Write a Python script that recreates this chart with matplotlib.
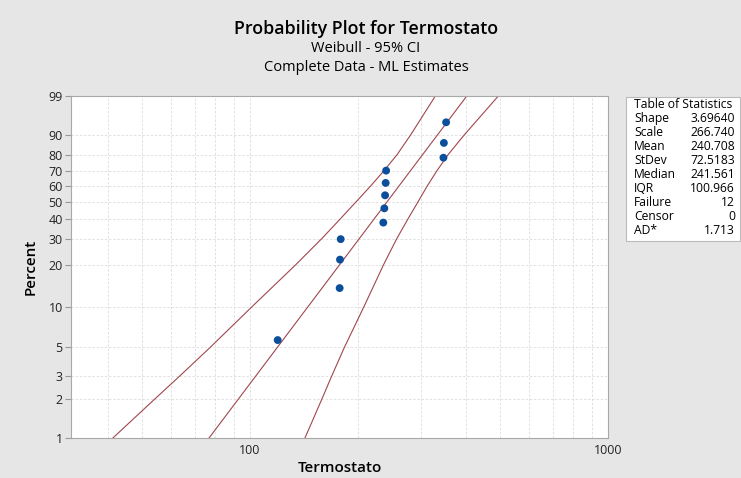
import numpy as np
import matplotlib.pyplot as plt

# data
termostato = [119.5, 178.0, 178.4, 179.2, 235.7, 237.3, 238.4, 239.3, 240.0, 347.0, 348.0, 353.0]
n = len(termostato)
ranks = np.arange(1, n + 1)
percent = (ranks - 0.3) / (n + 0.4) * 100  # median ranks

shape = 3.69640
scale = 266.740

ci_pct = [1, 2, 3, 5, 10, 20, 30, 40, 50, 60, 70, 80, 90, 99]
ci_lower = [41.4, 54.2, 63.6, 77.6, 101.2, 134.0, 158.5, 178.9, 198.0, 217.1, 236.5, 257.5, 281.3, 329.4]
ci_upper = [142.4, 158.8, 169.1, 183.7, 208.0, 235.9, 256.9, 276.4, 294.8, 312.5, 332.6, 357.5, 397.2, 494.0]

stat_names = ["Shape", "Scale", "Mean", "StDev", "Median", "IQR", "Failure", "Censor", "AD*"]
stat_values = ["3.69640", "266.740", "240.708", "72.5183", "241.561", "100.966", "12", "0", "1.713"]

y_ticks = [1, 2, 3, 5, 10, 20, 30, 40, 50, 60, 70, 80, 90, 99]

plt.rcParams['font.family'] = ['Open Sans', 'DejaVu Sans']


def fwd(p):
    p = np.clip(np.asarray(p, dtype=float), 1e-6, 100 - 1e-6)
    return np.log(-np.log(1 - p / 100))


def inv(w):
    return (1 - np.exp(-np.exp(w))) * 100


fig = plt.figure(figsize=(7.41, 4.78), dpi=100, facecolor="#E6E6E6")
ax = fig.add_axes([71 / 741, 40 / 478, 537 / 741, 342 / 478])
ax.set_facecolor("white")

ax.set_xscale("log")
ax.set_yscale("function", functions=(fwd, inv))
ax.set_xlim(10 ** 1.5, 1000)
ax.set_ylim(1, 99)

# fitted line from the table parameters
fit_pct = np.array(ci_pct, dtype=float)
fit_x = scale * (-np.log(1 - fit_pct / 100)) ** (1 / shape)
line_col = "#A0474C"
ax.plot(fit_x, fit_pct, color=line_col, lw=0.8, zorder=2)
ax.plot(ci_lower, ci_pct, color=line_col, lw=0.8, zorder=2)
ax.plot(ci_upper, ci_pct, color=line_col, lw=0.8, zorder=2)

ax.scatter(termostato, percent, s=32, color="#0B4F9C", zorder=3, edgecolors="none")

# ticks and grid
ax.set_xticks([100, 1000])
ax.set_xticklabels(["100", "1000"])
ax.set_xticks([40, 50, 60, 70, 80, 90, 200, 300, 400, 500, 600, 700, 800, 900], minor=True)
ax.xaxis.set_minor_formatter(plt.NullFormatter())
ax.set_yticks(y_ticks)
ax.set_yticklabels([str(t) for t in y_ticks])
ax.yaxis.set_minor_locator(plt.NullLocator())
ax.tick_params(axis="x", which="both", length=0, labelsize=9, colors="#222222", pad=4)
ax.tick_params(axis="y", length=4, labelsize=9, colors="#222222", pad=2, color="#999999")
ax.grid(True, which="both", color="#DCDCDC", lw=0.6, ls=(0, (3, 2)))
ax.set_axisbelow(True)
for s in ax.spines.values():
    s.set_color("#A8A8A8")
    s.set_linewidth(0.8)

ax.set_xlabel("Termostato", fontsize=11, fontweight="semibold", labelpad=3)
ax.set_ylabel("Percent", fontsize=11, fontweight="semibold", labelpad=8)

fig.text(0.494, 0.94, "Probability Plot for Termostato", ha="center", va="center",
         fontsize=12.8, fontweight="semibold")
fig.text(0.494, 0.898, "Weibull - 95% CI", ha="center", va="center", fontsize=10.5)
fig.text(0.494, 0.859, "Complete Data - ML Estimates", ha="center", va="center", fontsize=10.5)

# table of statistics
fig.patches.append(plt.Rectangle((626 / 741, (478 - 241) / 478), 114 / 741, 144 / 478,
                                 transform=fig.transFigure, facecolor="white",
                                 edgecolor="#BBBBBB", lw=0.8))
row_h = 13.9
y0 = 105
fig.text(634 / 741, 1 - y0 / 478, "Table of Statistics", ha="left", va="center", fontsize=8.7)
for i, (nm, val) in enumerate(zip(stat_names, stat_values)):
    yy = 1 - (y0 + row_h * (i + 1)) / 478
    fig.text(634 / 741, yy, nm, ha="left", va="center", fontsize=8.7)
    fig.text(735 / 741, yy, val, ha="right", va="center", fontsize=8.7)

fig.savefig("out.png", dpi=100, facecolor=fig.get_facecolor())
